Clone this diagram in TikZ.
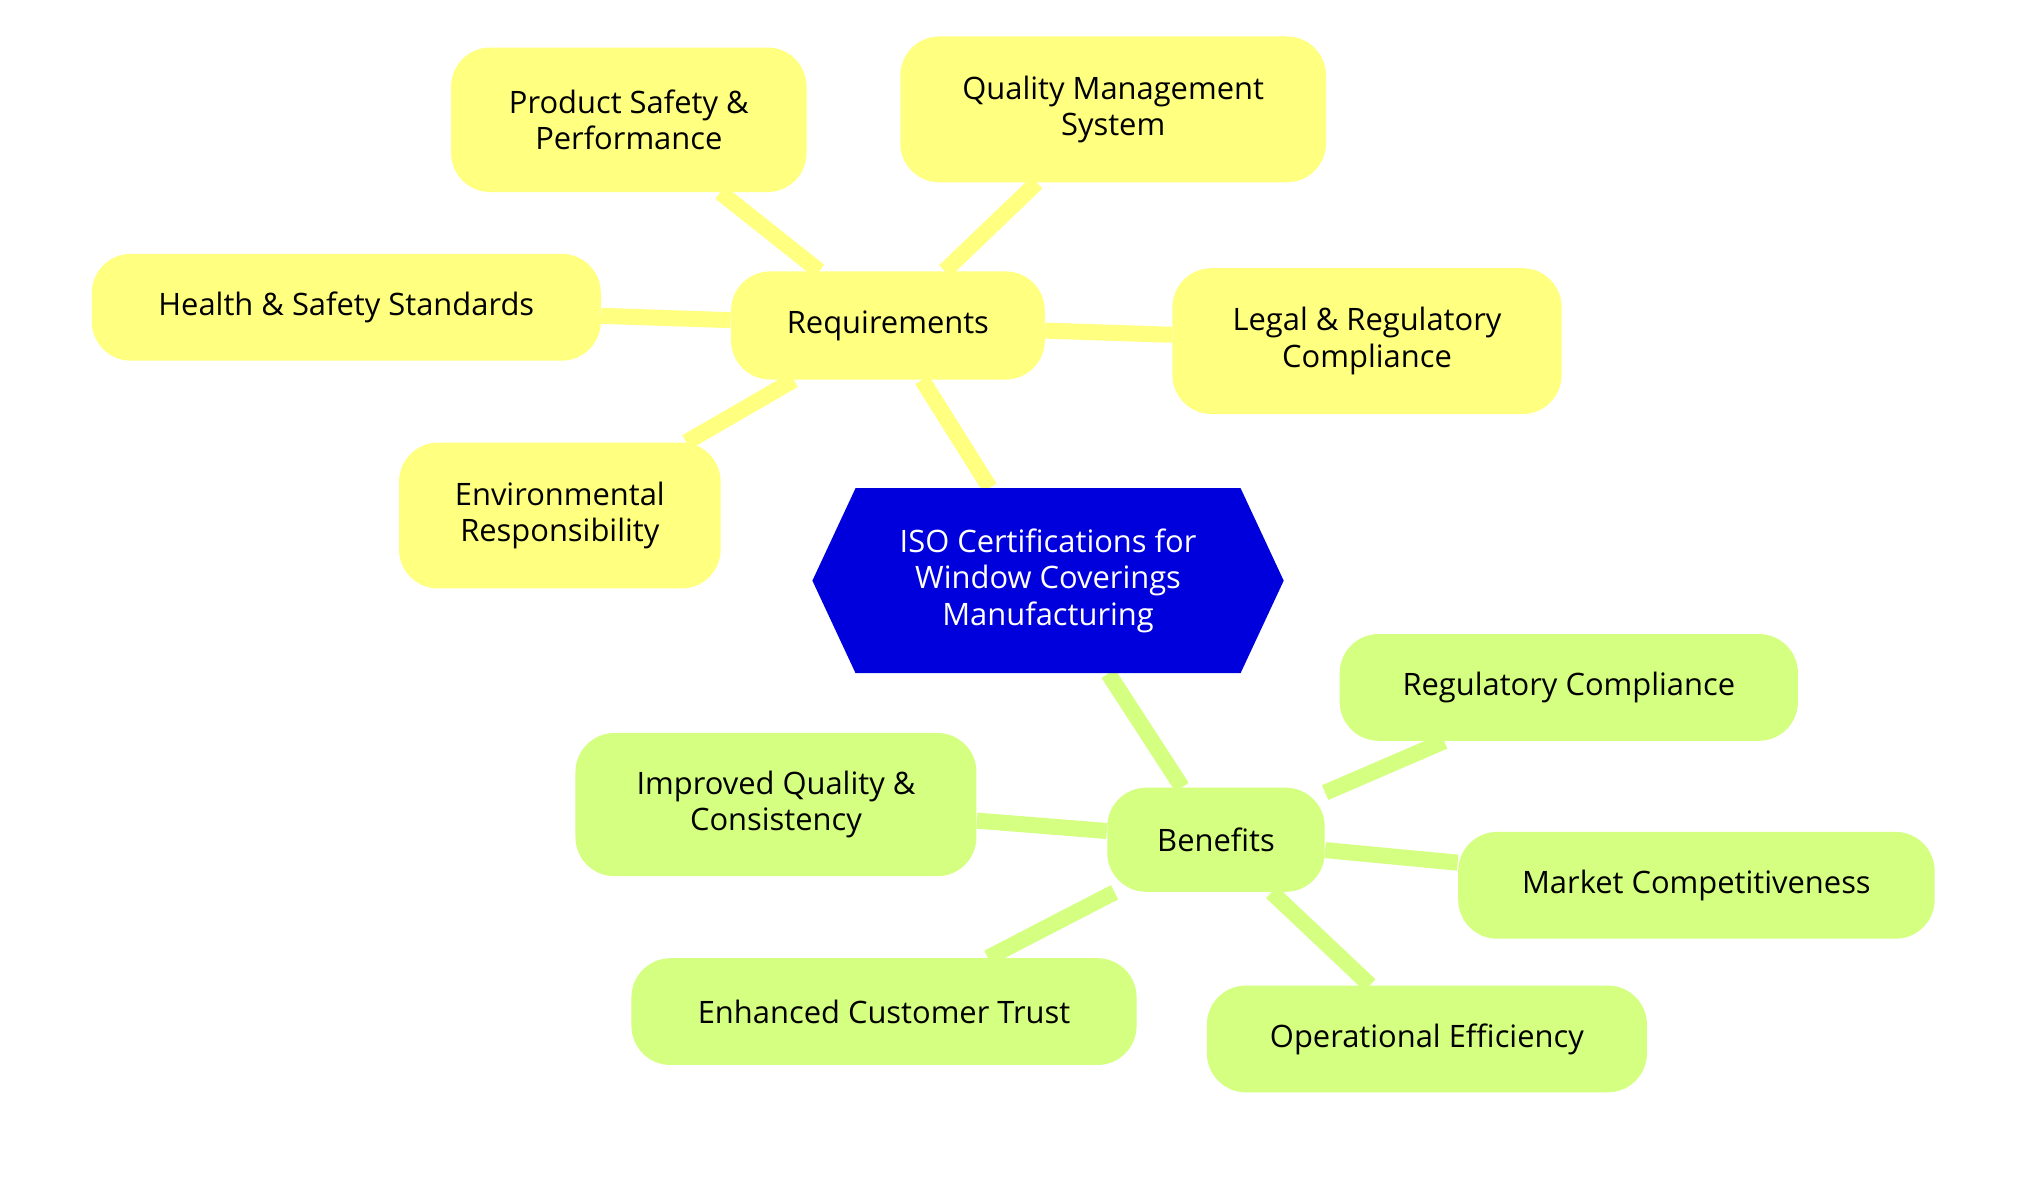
\documentclass[tikz,border=0pt]{standalone}
\usepackage{fontspec}
\setmainfont{Open Sans}
\usetikzlibrary{shapes.symbols,backgrounds}
\definecolor{reqyellow}{RGB}{255, 255, 128}
\definecolor{bengreen}{RGB}{212, 255, 128}
\definecolor{isoblue}{RGB}{0, 0, 221}
\tikzset{
  topic/.style={rounded corners=0.6cm,align=center,font=\fontsize{13.5}{16}\selectfont,inner sep=0pt},
  reqbox/.style={topic,fill=reqyellow},
  benbox/.style={topic,fill=bengreen},
  reqline/.style={line width=7pt,reqyellow},
  benline/.style={line width=7pt,bengreen},
  hub/.style={signal,signal to=west and east,signal pointer angle=130,fill=isoblue,text=white,align=center,font=\fontsize{13.5}{16}\selectfont,minimum width=7.24cm,minimum height=2.84cm,inner sep=0pt}
}
\begin{document}
\begin{tikzpicture}
\useasboundingbox (0,0) rectangle (31.2,-18.1);
\node[hub] (ISO) at (16.1,-8.92) {ISO Certifications for\\Window Coverings\\Manufacturing};
% requirements
\node[reqbox,minimum width=4.82cm,minimum height=1.66cm] (REQ) at (13.64,-5.0) {Requirements};
\node[reqbox,minimum width=5.46cm,minimum height=2.22cm] (R1) at (9.66,-1.84) {Product Safety \&\\Performance};
\node[reqbox,minimum width=6.54cm,minimum height=2.24cm] (R2) at (17.1,-1.68) {Quality Management\\System};
\node[reqbox,minimum width=7.82cm,minimum height=1.64cm] (R3) at (5.32,-4.72) {Health \& Safety Standards};
\node[reqbox,minimum width=5.98cm,minimum height=2.24cm] (R4) at (21.0,-5.24) {Legal \& Regulatory\\Compliance};
\node[reqbox,minimum width=4.94cm,minimum height=2.24cm] (R5) at (8.6,-7.92) {Environmental\\Responsibility};
% benefits
\node[benbox,minimum width=3.34cm,minimum height=1.6cm] (BEN) at (18.68,-12.9) {Benefits};
\node[benbox,minimum width=7.04cm,minimum height=1.64cm] (B1) at (24.1,-10.56) {Regulatory Compliance};
\node[benbox,minimum width=6.16cm,minimum height=2.2cm] (B2) at (11.92,-12.36) {Improved Quality \&\\Consistency};
\node[benbox,minimum width=7.32cm,minimum height=1.64cm] (B3) at (26.06,-13.6) {Market Competitiveness};
\node[benbox,minimum width=7.76cm,minimum height=1.64cm] (B4) at (13.58,-15.54) {Enhanced Customer Trust};
\node[benbox,minimum width=6.76cm,minimum height=1.64cm] (B5) at (21.92,-15.96) {Operational Efficiency};

\begin{scope}[on background layer]
\draw[reqline] (ISO) -- (REQ);
\foreach \r in {R1,R2,R3,R4,R5}
  \draw[reqline] (REQ) -- (\r);
\draw[benline] (ISO) -- (BEN);
\foreach \b in {B1,B2,B3,B4,B5}
  \draw[benline] (BEN) -- (\b);
\end{scope}
\end{tikzpicture}
\end{document}
